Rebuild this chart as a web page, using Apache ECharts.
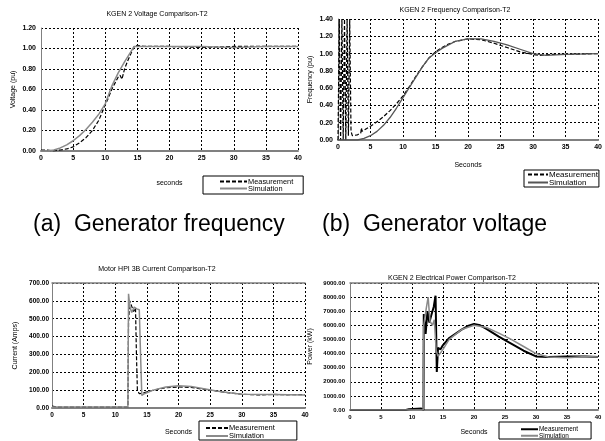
<!DOCTYPE html>
<html>
<head>
<meta charset="utf-8">
<script src="https://cdn.jsdelivr.net/npm/echarts@6/dist/echarts.min.js"></script>
<style>
html, body { margin: 0; padding: 0; background: #fff; }
#main { width: 605px; height: 441px; }
</style>
</head>
<body>
<div id="main"></div>
<script>
// time axis (seconds) shared by all four panels
var secTicks = [0, 5, 10, 15, 20, 25, 30, 35, 40];

// (a) KGEN 2 voltage
var voltMeasT = [0, 1, 2, 3, 4, 5, 6, 7, 8, 9, 10, 10.5, 11, 11.5, 12, 12.3, 12.6, 13, 13.5, 14, 14.5, 15, 16, 20, 25, 30, 35, 40];
var voltMeasV = [0.01, 0.01, 0.0, 0.01, 0.02, 0.04, 0.08, 0.13, 0.2, 0.3, 0.45, 0.52, 0.6, 0.66, 0.72, 0.74, 0.7, 0.8, 0.88, 0.95, 1.02, 1.03, 1.02, 1.02, 1.01, 1.02, 1.02, 1.02];
var voltSimT = [0, 1, 2, 3, 4, 5, 6, 7, 8, 9, 10, 11, 12, 13, 14, 14.5, 15, 20, 25, 30, 35, 40];
var voltSimV = [0.0, 0.0, 0.01, 0.03, 0.06, 0.1, 0.15, 0.21, 0.28, 0.36, 0.46, 0.63, 0.76, 0.87, 0.97, 1.02, 1.02, 1.02, 1.02, 1.01, 1.02, 1.02];

// (b) KGEN 2 frequency
var freqMeasT = [0, 0.2, 0.4, 0.6, 0.8, 1.0, 1.2, 1.4, 1.6, 1.8, 2.0, 2.2, 3, 3.5, 3.6, 3.7, 4, 5, 6, 7, 8, 9, 10, 11, 12, 13, 14, 15, 16, 17, 18, 20, 22, 24, 26, 28, 30, 31, 33, 35, 40];
var freqMeasV = [0, 1.4, 0, 1.4, 0, 1.4, 0, 1.4, 0.05, 1.4, 0.1, 0.05, 0.06, 0.08, 0.14, 0.1, 0.12, 0.16, 0.21, 0.27, 0.34, 0.42, 0.51, 0.62, 0.74, 0.85, 0.95, 1.02, 1.07, 1.11, 1.14, 1.17, 1.16, 1.12, 1.07, 1.02, 0.99, 0.98, 0.99, 0.99, 1.0];
var freqSimT = [0, 2, 3, 4, 5, 6, 7, 8, 9, 10, 11, 12, 13, 14, 15, 16, 17, 18, 20, 22, 24, 26, 28, 30, 32, 35, 40];
var freqSimV = [0, 0.0, 0.0, 0.02, 0.05, 0.1, 0.17, 0.26, 0.37, 0.49, 0.61, 0.73, 0.85, 0.95, 1.01, 1.06, 1.1, 1.14, 1.17, 1.17, 1.14, 1.1, 1.05, 1.0, 0.98, 0.99, 1.0];

// motor HPI 3B current
var curMeasT = [0, 0.3, 1, 12, 12.1, 12.3, 12.6, 12.9, 13.2, 13.35, 13.5, 13.8, 14.5, 16, 18, 20, 22, 24, 26, 28, 30, 33, 35, 37, 40];
var curMeasV = [10, 5, 5, 5, 480, 600, 590, 540, 560, 300, 100, 80, 85, 100, 113, 118, 115, 105, 95, 85, 77, 73, 76, 74, 75];
var curSimT = [0, 12, 12.1, 12.3, 12.6, 13.0, 13.4, 13.8, 14.0, 14.2, 14.6, 16, 18, 20, 22, 24, 26, 28, 30, 35, 40];
var curSimV = [5, 5, 640, 570, 535, 565, 555, 550, 300, 70, 80, 100, 118, 125, 120, 108, 95, 85, 77, 75, 73];

// KGEN 2 electrical power
var powMeasT = [0, 9, 9.5, 11.5, 11.8, 11.85, 11.9, 12.2, 12.5, 12.8, 13.1, 13.5, 13.8, 14.0, 14.2, 14.6, 15, 16, 17, 18, 19, 20, 21, 22, 24, 26, 28, 30, 32, 35, 38, 40];
var powMeasV = [0, 0, 50, 100, 100, 0, 6800, 5400, 7000, 6200, 6700, 7300, 8100, 2700, 4400, 4300, 4600, 5100, 5400, 5700, 5950, 6100, 6000, 5750, 5200, 4700, 4200, 3800, 3750, 3800, 3800, 3750];
var powSimT = [0, 11.8, 11.9, 12.3, 12.6, 12.9, 13.3, 13.6, 13.9, 14.2, 15, 16, 18, 20, 22, 24, 26, 28, 30, 32, 35, 38, 40];
var powSimV = [0, 0, 6000, 7200, 8000, 6300, 6000, 6400, 4200, 3800, 4300, 5000, 5700, 6000, 5850, 5450, 5000, 4500, 4000, 3750, 3700, 3800, 3750];

var titles = ['KGEN 2 Voltage Comparison-T2', 'KGEN 2 Frequency Comparison-T2', 'Motor HPI 3B Current Comparison-T2', 'KGEN 2 Electrical Power Comparison-T2'];
var yNames = ['Voltage (pu)', 'Frequency (pu)', 'Current (Amps)', 'Power (kW)'];
var xNames = ['seconds', 'Seconds', 'Seconds', 'Seconds'];
var yMax = [1.2, 1.4, 700, 9000];
var yStep = [0.2, 0.2, 100, 1000];

var font = 'Liberation Sans';

function pairs(t, v) {
    return t.map(function (x, i) { return [x, v[i]]; });
}

var myChart = echarts.init(document.getElementById('main'));

// plot areas (px)
var grids = [
    {left: 41, top: 28, width: 257, height: 123},
    {left: 338, top: 19, width: 265, height: 121},
    {left: 52, top: 283, width: 253, height: 125},
    {left: 350, top: 283, width: 248, height: 127}
];
var tickFont = [7, 7, 6.5, 6];
var xNameGap = [29, 22, 21, 19];
var yNameGap = [24, 24, 33, 36];

var dotted = {color: '#000', type: [2, 2], width: 1};

var xAxes = [], yAxes = [];
grids.forEach(function (g, i) {
    xAxes.push({
        type: 'value', gridIndex: i, min: 0, max: 40, interval: 5,
        axisLine: {lineStyle: {color: '#808080', width: 2}},
        axisTick: {show: false},
        axisLabel: {fontSize: tickFont[i], fontWeight: 'bold', color: '#000', fontFamily: font, margin: 4},
        splitLine: {show: true, lineStyle: dotted},
        name: xNames[i], nameLocation: 'middle', nameGap: xNameGap[i],
        nameTextStyle: {fontSize: 7, color: '#000', fontFamily: font}
    });
    yAxes.push({
        type: 'value', gridIndex: i, min: 0, max: yMax[i], interval: yStep[i],
        axisLine: {show: true, lineStyle: {color: '#808080', width: 1}},
        axisTick: {show: false},
        axisLabel: {
            fontSize: tickFont[i], fontWeight: 'bold', color: '#000', fontFamily: font,
            margin: i == 2 ? 3 : 5,
            formatter: function (v) { return v.toFixed(2); }
        },
        splitLine: {show: true, lineStyle: dotted},
        name: yNames[i], nameLocation: 'middle', nameGap: yNameGap[i],
        nameTextStyle: {fontSize: 7, color: '#000', fontFamily: font}
    });
});
// grey top border on the lower two panels
[2, 3].forEach(function (i) {
    xAxes.push({
        type: 'value', gridIndex: i, position: 'top', min: 0, max: 40,
        axisLine: {lineStyle: {color: '#808080', width: 1.5}},
        axisTick: {show: false}, axisLabel: {show: false}, splitLine: {show: false}
    });
});

var measDash = {color: '#000', width: 1.2, type: [4, 2]};
var simLine = {color: '#8a8a8a', width: 1.5};

function line(name, idx, data, style) {
    return {
        name: name, type: 'line', xAxisIndex: idx, yAxisIndex: idx,
        data: data, symbol: 'none', showSymbol: false,
        lineStyle: style, itemStyle: {color: style.color}
    };
}

var series = [
    line('Measurement#1', 0, pairs(voltMeasT, voltMeasV), measDash),
    line('Simulation#1', 0, pairs(voltSimT, voltSimV), simLine),
    line('Measurement#2', 1, pairs(freqMeasT, freqMeasV), measDash),
    line('Simulation#2', 1, pairs(freqSimT, freqSimV), {color: '#555', width: 1.3}),
    line('Measurement#3', 2, pairs(curMeasT, curMeasV), measDash),
    line('Simulation#3', 2, pairs(curSimT, curSimV), simLine),
    line('Measurement#4', 3, pairs(powMeasT, powMeasV), {color: '#000', width: 2}),
    line('Simulation#4', 3, pairs(powSimT, powSimV), {color: '#8a8a8a', width: 1.5})
];

function legend(n, left, top, pad, iconW, fs, lh) {
    return {
        data: ['Measurement#' + n, 'Simulation#' + n],
        orient: 'vertical', left: left, top: top,
        padding: pad, itemGap: 0, itemWidth: iconW, itemHeight: lh,
        borderColor: '#000', borderWidth: 1, borderRadius: 0,
        selectedMode: false,
        itemStyle: {opacity: 0},
        formatter: function (name) { return name.split('#')[0]; },
        textStyle: {fontSize: fs, lineHeight: lh, color: '#000', fontFamily: font, padding: [0, 0, 0, -4]}
    };
}

var option_all = {
    animation: false,
    backgroundColor: '#fff',
    grid: grids,
    xAxis: xAxes,
    yAxis: yAxes,
    legend: [
        legend(1, 203, 176, [2, 10, 2, 16], 27, 7.4, 7),
        legend(2, 524, 170, [0.5, 1, 0.5, 3], 20, 8, 6),
        legend(3, 199, 421, [3, 22, 0, 6], 22, 7.5, 6),
        legend(4, 499, 422, [4, 13, 0, 21], 17, 6.4, 6.5)
    ],
    graphic: [
        {type: 'text', x: 157, y: 14, style: {text: titles[0], fontSize: 7, fontFamily: font, fill: '#000', align: 'center', verticalAlign: 'middle'}},
        {type: 'text', x: 455, y: 10, style: {text: titles[1], fontSize: 7, fontFamily: font, fill: '#000', align: 'center', verticalAlign: 'middle'}},
        {type: 'text', x: 157, y: 269, style: {text: titles[2], fontSize: 7, fontFamily: font, fill: '#000', align: 'center', verticalAlign: 'middle'}},
        {type: 'text', x: 452, y: 278, style: {text: titles[3], fontSize: 7, fontFamily: font, fill: '#000', align: 'center', verticalAlign: 'middle'}},
        {type: 'text', x: 33, y: 225, style: {text: '(a)  Generator frequency', fontSize: 23, fontFamily: font, fill: '#000', verticalAlign: 'middle'}},
        {type: 'text', x: 322, y: 225, style: {text: '(b)  Generator voltage', fontSize: 23, fontFamily: font, fill: '#000', verticalAlign: 'middle'}}
    ],
    series: series
};

myChart.setOption(option_all);
</script>
</body>
</html>
